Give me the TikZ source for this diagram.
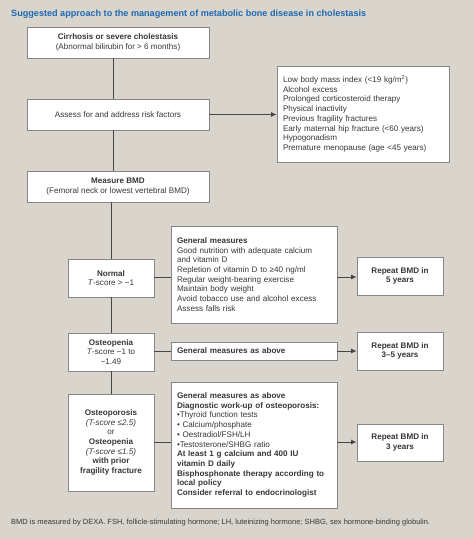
\documentclass[tikz,border=0pt]{standalone}
\usepackage{fontspec}
\setmainfont{Liberation Sans}
\usetikzlibrary{arrows.meta}
\definecolor{bgc}{RGB}{217,213,204}
\definecolor{titlec}{RGB}{30,104,178}
\definecolor{txtc}{RGB}{55,55,55}
\definecolor{linec}{RGB}{70,70,70}
\definecolor{borderc}{RGB}{135,135,135}
\begin{document}
\begin{tikzpicture}[x=1bp,y=-1bp,
  every node/.style={font=\fontsize{8.1bp}{9.7bp}\selectfont, text=txtc},
  box/.style={draw=borderc, line width=0.8bp, fill=white, inner sep=0pt, align=center},
  lbox/.style={box, align=left, inner xsep=6bp},
  conn/.style={draw=linec, line width=0.9bp},
  arr/.style={conn, -{Latex[length=5.5bp,width=5bp]}}
]
\fill[bgc] (0,0) rectangle (474,539);
\useasboundingbox (0,0) rectangle (474,539);

\node[anchor=west, inner sep=0pt, text=titlec, font=\fontsize{9.1bp}{10bp}\selectfont\bfseries] (title) at (11,14)
  {Suggested approach to the management of metabolic bone disease in cholestasis};

\node[box, minimum width=182bp, minimum height=31bp] (cirr) at (118,42.5)
  {\textbf{Cirrhosis or severe cholestasis}\\(Abnormal bilirubin for > 6 months)};
\node[box, minimum width=182bp, minimum height=31bp] (assess) at (118,114.5)
  {Assess for and address risk factors};
\node[box, minimum width=182bp, minimum height=31bp] (bmd) at (118,186.5)
  {\textbf{Measure BMD}\\(Femoral neck or lowest vertebral BMD)};

\node[lbox, minimum width=172bp, minimum height=96bp, text width=160bp] (risk) at (363,114)
  {Low body mass index (<19 kg/m\textsuperscript{2})\\Alcohol excess\\Prolonged corticosteroid therapy\\Physical inactivity\\Previous fragility fractures\\Early maternal hip fracture (<60 years)\\Hypogonadism\\Premature menopause (age <45 years)};

\node[box, minimum width=86bp, minimum height=38bp] (normal) at (111,278)
  {\textbf{Normal}\\\textit{T}-score > −1};
\node[box, minimum width=86bp, minimum height=38bp] (openia) at (111,352)
  {\textbf{Osteopenia}\\\textit{T}-score −1 to\\−1.49};
\node[box, minimum width=86bp, minimum height=97bp] (oporosis) at (111,442.5)
  {\textbf{Osteoporosis}\\\textit{(T-score ≤2.5)}\\or\\\textbf{Osteopenia}\\\textit{(T-score ≤1.5)}\\\textbf{with prior}\\\textbf{fragility fracture}};

\node[lbox, minimum width=166bp, minimum height=97bp, text width=154bp, inner xsep=6bp] (gen) at (254,274.5)
  {\textbf{General measures}\\Good nutrition with adequate calcium\\and vitamin D\\Repletion of vitamin D to ≥40 ng/ml\\Regular weight-bearing exercise\\Maintain body weight\\Avoid tobacco use and alcohol excess\\Assess falls risk};
\node[lbox, minimum width=166bp, minimum height=18bp, text width=154bp, inner xsep=6bp] (gma) at (254,351)
  {\textbf{General measures as above}};
\node[lbox, minimum width=166bp, minimum height=126bp, text width=154bp, inner xsep=6bp] (big) at (254,445)
  {\textbf{General measures as above}\\\textbf{Diagnostic work-up of osteoporosis:}\\•Thyroid function tests\\• Calcium/phosphate\\• Oestradiol/FSH/LH\\•Testosterone/SHBG ratio\\\textbf{At least 1 g calcium and 400 IU}\\\textbf{vitamin D daily}\\\textbf{Bisphosphonate therapy according to}\\\textbf{local policy}\\\textbf{Consider referral to endocrinologist}};

\node[box, minimum width=86bp, minimum height=38bp] (rep1) at (400,276)
  {\textbf{Repeat BMD in}\\\textbf{5 years}};
\node[box, minimum width=86bp, minimum height=38bp] (rep2) at (400,351)
  {\textbf{Repeat BMD in}\\\textbf{3–5 years}};
\node[box, minimum width=86bp, minimum height=37bp] (rep3) at (400,442.5)
  {\textbf{Repeat BMD in}\\\textbf{3 years}};

\node[anchor=west, inner sep=0pt, font=\fontsize{7.5bp}{8.5bp}\selectfont] (foot) at (11,523)
  {BMD is measured by DEXA. FSH, follicle-stimulating hormone; LH, luteinizing hormone; SHBG, sex hormone-binding globulin.};

% connectors
\coordinate (sp1) at (113,0);
\coordinate (sp2) at (111,0);
\draw[conn] (cirr.south -| sp1) -- (assess.north -| sp1);
\draw[conn] (assess.south -| sp1) -- (bmd.north -| sp1);
\draw[conn] (bmd.south -| sp2) -- (normal.north -| sp2);
\draw[conn] (normal.south) -- (openia.north);
\draw[conn] (openia.south) -- (oporosis.north);

\coordinate (r1) at (0,277);
\coordinate (r2) at (0,351);
\coordinate (r3) at (0,442);
\draw[arr] (assess.east) -- (assess.east -| risk.west);
\draw[conn] (normal.east |- r1) -- (gen.west |- r1);
\draw[arr] (gen.east |- r1) -- (rep1.west |- r1);
\draw[conn] (openia.east |- r2) -- (gma.west |- r2);
\draw[arr] (gma.east |- r2) -- (rep2.west |- r2);
\draw[conn] (oporosis.east |- r3) -- (big.west |- r3);
\draw[arr] (big.east |- r3) -- (rep3.west |- r3);
\end{tikzpicture}
\end{document}
